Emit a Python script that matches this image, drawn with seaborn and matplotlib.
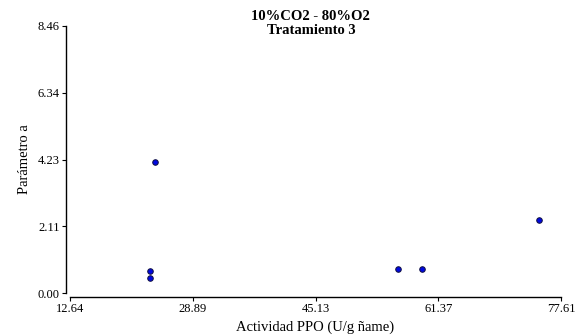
import matplotlib
matplotlib.use("Agg")
import matplotlib.pyplot as plt
import seaborn as sns
import pandas as pd

# PPO activity vs. parameter a, treatment 3
actividad_ppo = [23.89, 23.23, 23.23, 56.09, 59.22, 74.70]
parametro_a = [4.16, 0.69, 0.47, 0.75, 0.75, 2.30]
x_ticks = [12.64, 28.89, 45.13, 61.37, 77.61]
y_ticks = [0.00, 2.11, 4.23, 6.34, 8.46]

df = pd.DataFrame({"x": actividad_ppo, "y": parametro_a})

sns.set_theme(style="ticks", rc={"text.color": "black", "axes.labelcolor": "black",
                                 "xtick.color": "black", "ytick.color": "black",
                                 "axes.edgecolor": "black"})
plt.rcParams["font.family"] = ["Liberation Serif", "DejaVu Serif"]

fig = plt.figure(figsize=(5.81, 3.35), dpi=100)
ax = fig.add_axes([70 / 581, 1 - 293 / 335, (561 - 70) / 581, (293 - 26) / 335])

sns.scatterplot(data=df, x="x", y="y", ax=ax, s=16, color="#0008e0",
                edgecolor="#101040", linewidth=0.7, zorder=3)

ax.set_xlim(x_ticks[0], x_ticks[-1])
ax.set_ylim(y_ticks[0], y_ticks[-1])
ax.set_xticks(x_ticks)
ax.set_yticks(y_ticks)
ax.set_xticklabels([f"{v:.2f}" for v in x_ticks])
ax.set_yticklabels([f"{v:.2f}" for v in y_ticks])
ax.tick_params(axis="both", labelsize=9, length=3, width=0.8, pad=1.5, color="black")

sns.despine(ax=ax, offset=3)
for s in ("left", "bottom"):
    ax.spines[s].set_linewidth(1.0)
    ax.spines[s].set_color("black")

ax.set_xlabel("Actividad PPO (U/g ñame)", fontsize=10.5, labelpad=4)
ax.set_ylabel("Parámetro a", fontsize=10.5, labelpad=5)

fig.text(0.535, 1 - 16 / 335, "10%CO2 - 80%O2", ha="center", va="center",
         fontsize=10.5, fontweight="bold")
fig.text(0.535, 1 - 31 / 335, "Tratamiento 3", ha="center", va="center",
         fontsize=10.5, fontweight="bold")

fig.savefig("out.png", dpi=100)
